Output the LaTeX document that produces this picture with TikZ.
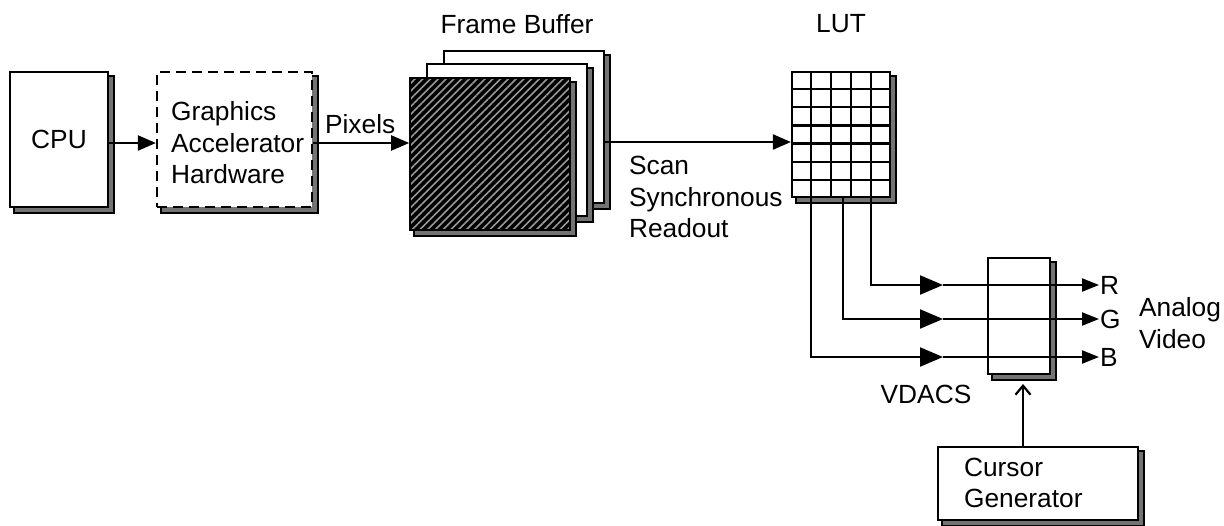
\documentclass[tikz,border=0pt]{standalone}
\usepackage{fontspec}
\setmainfont{Liberation Sans}
\usetikzlibrary{arrows.meta,patterns.meta,calc}
\begin{document}
\begin{tikzpicture}[x=1pt,y=-1pt,
  font=\fontsize{26.3}{31.5}\selectfont,
  line width=2.2pt,
  box/.style={draw=black,fill=white,rectangle,inner sep=0pt,line width=2.2pt},
  shadowbox/.style={draw=black,fill=black!55,line width=1.4pt},
  lbl/.style={inner sep=0pt,align=left},
  bigtip/.style={-{Triangle[length=18pt,width=15pt]}},
  midtip/.style={-{Triangle[length=23pt,width=19pt]}},
  endtip/.style={-{Triangle[length=17pt,width=13pt]}}
]
\useasboundingbox (0,0) rectangle (1224,525);

% shadows
\newcommand{\shadowof}[1]{\draw[shadowbox] ($(#1.north west)+(5,5)$) rectangle ($(#1.south east)+(5,5)$);}

% CPU
\node[draw=none,minimum width=98pt,minimum height=135pt,inner sep=0pt] (cpu) at (59,139.5) {};
\shadowof{cpu}
\node[box,minimum width=98pt,minimum height=135pt] (cpub) at (59,139.5) {CPU};

% Graphics accelerator
\node[draw=none,minimum width=155pt,minimum height=135pt,inner sep=0pt] (ga) at (234.5,139.5) {};
\shadowof{ga}
\node[box,dashed,dash pattern=on 10pt off 6pt,minimum width=155pt,minimum height=135pt] (gab) at (234.5,139.5) {};
\node[lbl,anchor=west] (gat) at (170,143) {Graphics\\Accelerator\\Hardware};

% Frame buffer stack
\node[draw=none,minimum width=160pt,minimum height=152pt,inner sep=0pt] (fb3) at (524,127) {};
\shadowof{fb3}
\node[box,minimum width=160pt,minimum height=152pt] (fb3b) at (524,127) {};
\node[draw=none,minimum width=160pt,minimum height=152pt,inner sep=0pt] (fb2) at (507,140) {};
\shadowof{fb2}
\node[box,minimum width=160pt,minimum height=152pt] (fb2b) at (507,140) {};
\node[draw=none,minimum width=160pt,minimum height=152pt,inner sep=0pt] (fb1) at (490,154) {};
\shadowof{fb1}
\node[box,preaction={fill=black},pattern={Lines[angle=45,distance=5.5pt,line width=1.6pt]},pattern color=gray!80,minimum width=160pt,minimum height=152pt] (fb1b) at (490,154) {};
\node[lbl] (fbt) at (517,24) {Frame Buffer};

% LUT
\node[draw=none,minimum width=98pt,minimum height=125pt,inner sep=0pt] (lut) at (841,134.5) {};
\shadowof{lut}
\node[box,minimum width=98pt,minimum height=125pt] (lutb) at (841,134.5) {};
\foreach \i in {1,...,4}{
  \draw ($(lut.north west)!\i/5!(lut.north east)$) -- ($(lut.south west)!\i/5!(lut.south east)$);
}
\foreach \j in {1,...,6}{
  \draw ($(lut.north west)!\j/7!(lut.south west)$) -- ($(lut.north east)!\j/7!(lut.south east)$);
}
\node[lbl] (lutt) at (841,24) {LUT};

% VDAC
\node[draw=none,minimum width=62pt,minimum height=116pt,inner sep=0pt] (vdac) at (1019,316) {};
\shadowof{vdac}
\node[box,minimum width=62pt,minimum height=116pt] (vdacb) at (1019,316) {};
\node[lbl] (vdact) at (926,394) {VDACS};

% Cursor generator
\node[draw=none,minimum width=200pt,minimum height=73pt,inner sep=0pt] (cur) at (1038,483.5) {};
\shadowof{cur}
\node[box,minimum width=200pt,minimum height=73pt] (curb) at (1038,483.5) {};
\node[lbl,anchor=west] (curt) at (963,483) {Cursor\\Generator};

% labels
\node[lbl,anchor=west] (pix) at (324,124) {Pixels};
\node[lbl,anchor=west] (scan) at (628,197) {Scan\\Synchronous\\Readout};
\node[lbl,anchor=west] (R) at (1099,285) {R};
\node[lbl,anchor=west] (G) at (1099,319) {G};
\node[lbl,anchor=west] (B) at (1099,357) {B};
\node[lbl,anchor=west] (av) at (1138,323) {Analog\\Video};

% connectors
\draw[bigtip] (cpub.east |- 0,143) -- (gab.west |- 0,143);
\draw[bigtip] (gab.east |- 0,143) -- (fb1b.west |- 0,143);
\draw[bigtip] (fb3b.east |- 0,142) -- (lutb.west |- 0,142);

\coordinate (mR) at (943,285);
\coordinate (mG) at (943,319);
\coordinate (mB) at (943,357);
\draw[midtip] ($(lut.south west)!0.8!(lut.south east)$) |- (mR);
\draw[midtip] ($(lut.south west)!0.52!(lut.south east)$) |- (mG);
\draw[midtip] ($(lut.south west)!0.2!(lut.south east)$) |- (mB);
\draw[endtip] (mR) -- (R.west);
\draw[endtip] (mG) -- (G.west);
\draw[endtip] (mB) -- (B.west);

\draw[-{Straight Barb[length=9pt,width=15pt]}] (curb.north -| 1023,0) -- (1023,384);
\end{tikzpicture}
\end{document}
